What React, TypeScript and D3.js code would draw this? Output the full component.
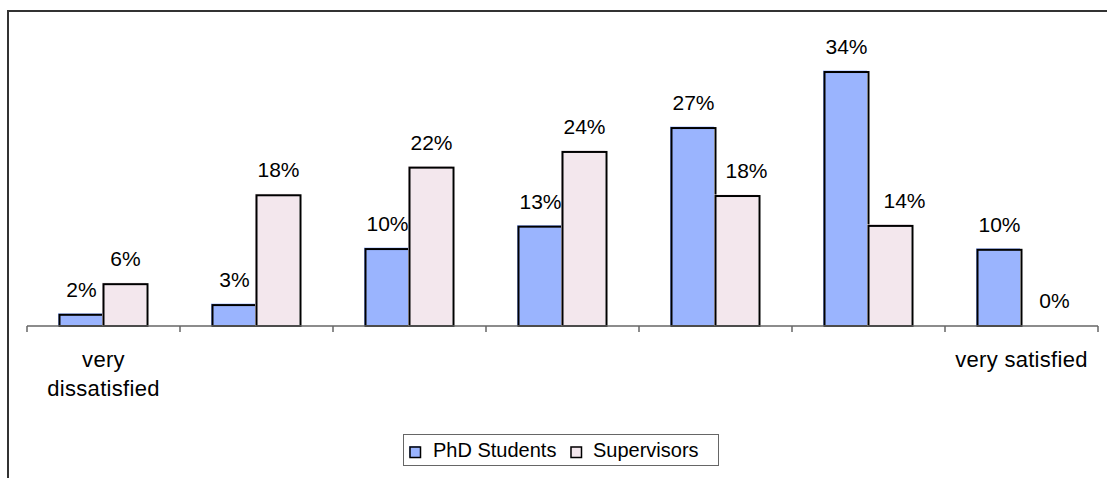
import React from "react";
import * as d3 from "d3";

const categories = ["c1", "c2", "c3", "c4", "c5", "c6", "c7"];
const categoryLabels: string[][] = [["very", "dissatisfied"], [], [], [], [], [], ["very satisfied"]];
const seriesNames = ["PhD Students", "Supervisors"];
const studentValues = [1.5, 2.8, 10.3, 13.3, 26.5, 34.0, 10.2];
const supervisorValues = [5.6, 17.5, 21.2, 23.3, 17.4, 13.4, 0];
const studentLabels = ["2%", "3%", "10%", "13%", "27%", "34%", "10%"];
const supervisorLabels = ["6%", "18%", "22%", "24%", "18%", "14%", "0%"];

const W = 1107;
const H = 478;
const FONT = "'Liberation Sans', Arial, sans-serif";
const colors = ["#9ab4fe", "#f3e7ed"];
// label nudges (Excel moved a few labels to avoid overlaps)
const supervisorLabelDx = [0, 0, 0, 0, 9, 14, 11];

export default function App() {
  const x0 = d3.scaleBand<string>().domain(categories).range([27, 1098]).paddingInner(0).paddingOuter(0);
  const bw = x0.bandwidth();
  const barW = 44;
  const x1 = d3
    .scaleBand<string>()
    .domain(seriesNames)
    .range([(bw - 2 * barW) / 2, (bw + 2 * barW) / 2]);
  const y = d3.scaleLinear().domain([0, 40]).range([326, 27.2]);
  const y0 = y(0);

  const series = [
    { name: seriesNames[0], values: studentValues, labels: studentLabels, dx: studentValues.map(() => 0) },
    { name: seriesNames[1], values: supervisorValues, labels: supervisorLabels, dx: supervisorLabelDx },
  ];

  const ticks = [...categories.map((c) => x0(c)!), x0(categories[categories.length - 1])! + bw];

  return (
    <svg width={W} height={H} style={{ position: "absolute", left: 0, top: 0 }} fontFamily={FONT}>
      <rect x={0} y={0} width={W} height={H} fill="#fff" />
      <rect x={8} y={11} width={W + 20} height={H + 20} fill="none" stroke="#333" strokeWidth={2} />

      {series.map((s, si) => (
        <g key={s.name}>
          {categories.map((c, i) => {
            const v = s.values[i];
            if (v <= 0) return null;
            const bx = x0(c)! + x1(s.name)!;
            const top = y(v);
            return (
              <g key={c}>
                <rect x={bx - 1.5} y={top - 1.5} width={barW} height={y0 - top + 1.5} fill={colors[si]} />
                <rect x={bx} y={top} width={barW} height={y0 - top} fill="none" stroke="#000" strokeWidth={2} />
              </g>
            );
          })}
        </g>
      ))}

      {series.map((s, si) => (
        <g key={s.name + "-lab"}>
          {categories.map((c, i) => {
            const bx = x0(c)! + x1(s.name)! + barW / 2 + s.dx[i];
            const top = y(s.values[i]);
            return (
              <text key={c} x={bx} y={top - 18} textAnchor="middle" fontSize={21} fill="#000">
                {s.labels[i]}
              </text>
            );
          })}
        </g>
      ))}

      <line x1={27} x2={1098} y1={y0} y2={y0} stroke="#666" strokeWidth={1.5} />
      {ticks.map((t, i) => (
        <line key={i} x1={t} x2={t} y1={y0} y2={y0 + 6} stroke="#666" strokeWidth={1.5} />
      ))}

      {categories.map((c, i) => (
        <text key={c} x={x0(c)! + bw / 2} y={367} textAnchor="middle" fontSize={22} letterSpacing={0.3} fill="#000">
          {categoryLabels[i].map((l, li) => (
            <tspan key={li} x={x0(c)! + bw / 2} dy={li === 0 ? 0 : 29}>
              {l}
            </tspan>
          ))}
        </text>
      ))}

      <g>
        <rect x={403.5} y={434.5} width={315} height={31} fill="#fff" stroke="#666" strokeWidth={1} />
        {[
          { sx: 410, tx: 433 },
          { sx: 571, tx: 593 },
        ].map((p, i) => (
          <g key={i}>
            <rect x={p.sx - 1} y={446} width={11} height={11} fill={colors[i]} />
            <rect x={p.sx} y={447} width={10.5} height={10.5} fill="none" stroke="#000" strokeWidth={1.5} />
            <text x={p.tx} y={457} fontSize={20} fill="#000">
              {seriesNames[i]}
            </text>
          </g>
        ))}
      </g>
    </svg>
  );
}
